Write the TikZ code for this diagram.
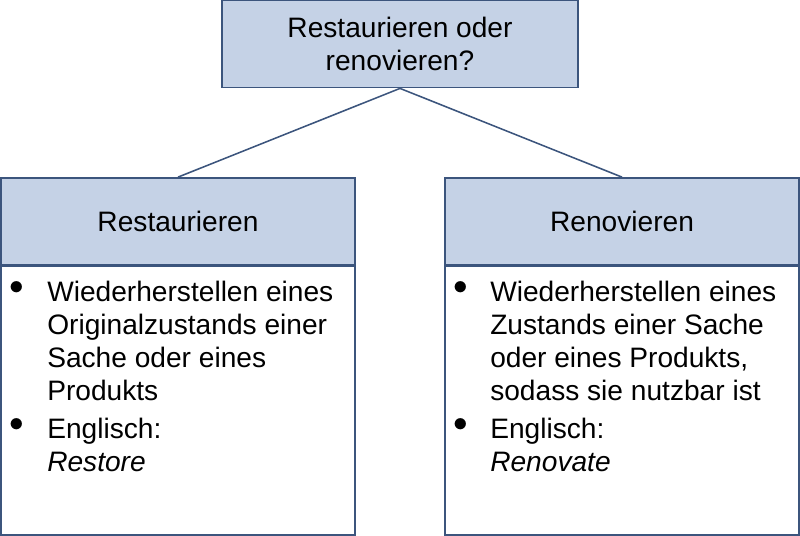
\documentclass[tikz,border=0pt]{standalone}
\usepackage{fontspec}
\setmainfont{Liberation Sans}
\definecolor{headfill}{RGB}{197,210,230}
\definecolor{boxline}{RGB}{60,85,125}
\tikzset{
  headbox/.style={draw=boxline,fill=headfill,line width=1.1pt,minimum width=8.85cm,minimum height=2.18cm,font=\fontsize{20}{23.4}\selectfont,align=center,inner sep=0pt},
  bodybox/.style={draw=boxline,fill=white,line width=1.1pt,minimum width=8.85cm,minimum height=6.7cm,inner sep=0pt},
  itemtext/.style={anchor=north west,align=left,inner sep=0pt,font=\fontsize{20}{23.4}\selectfont},
  dot/.style={anchor=north west,inner sep=0pt,font=\fontsize{20}{23.4}\selectfont}
}
\begin{document}
\begin{tikzpicture}[x=0.025cm,y=-0.025cm]
\useasboundingbox (0,0) rectangle (800,535);
\node[headbox,minimum width=8.9cm] (top) at (400,44) {Restaurieren oder\\renovieren?};
\node[headbox] (lhead) at (178,221.5) {Restaurieren};
\node[headbox] (rhead) at (622,221.5) {Renovieren};
\node[bodybox,anchor=north] (lbody) at (lhead.south) {};
\node[bodybox,anchor=north] (rbody) at (rhead.south) {};
\draw[boxline,line width=1.1pt] (top.south) -- (lhead.north);
\draw[boxline,line width=1.1pt] (top.south) -- (rhead.north);
% left items
\node[dot] (l1d) at (9,281) {$\bullet$};
\node[itemtext] (l1) at (47,281) {Wiederherstellen eines\\Originalzustands einer\\Sache oder eines\\Produkts};
\node[dot] (l2d) at (9,418) {$\bullet$};
\node[itemtext] (l2) at (47,418) {Englisch:\\\textit{Restore}};
% right items
\node[dot] (r1d) at (453,281) {$\bullet$};
\node[itemtext] (r1) at (490,281) {Wiederherstellen eines\\Zustands einer Sache\\oder eines Produkts,\\sodass sie nutzbar ist};
\node[dot] (r2d) at (453,418) {$\bullet$};
\node[itemtext] (r2) at (490,418) {Englisch:\\\textit{Renovate}};
\end{tikzpicture}
\end{document}
